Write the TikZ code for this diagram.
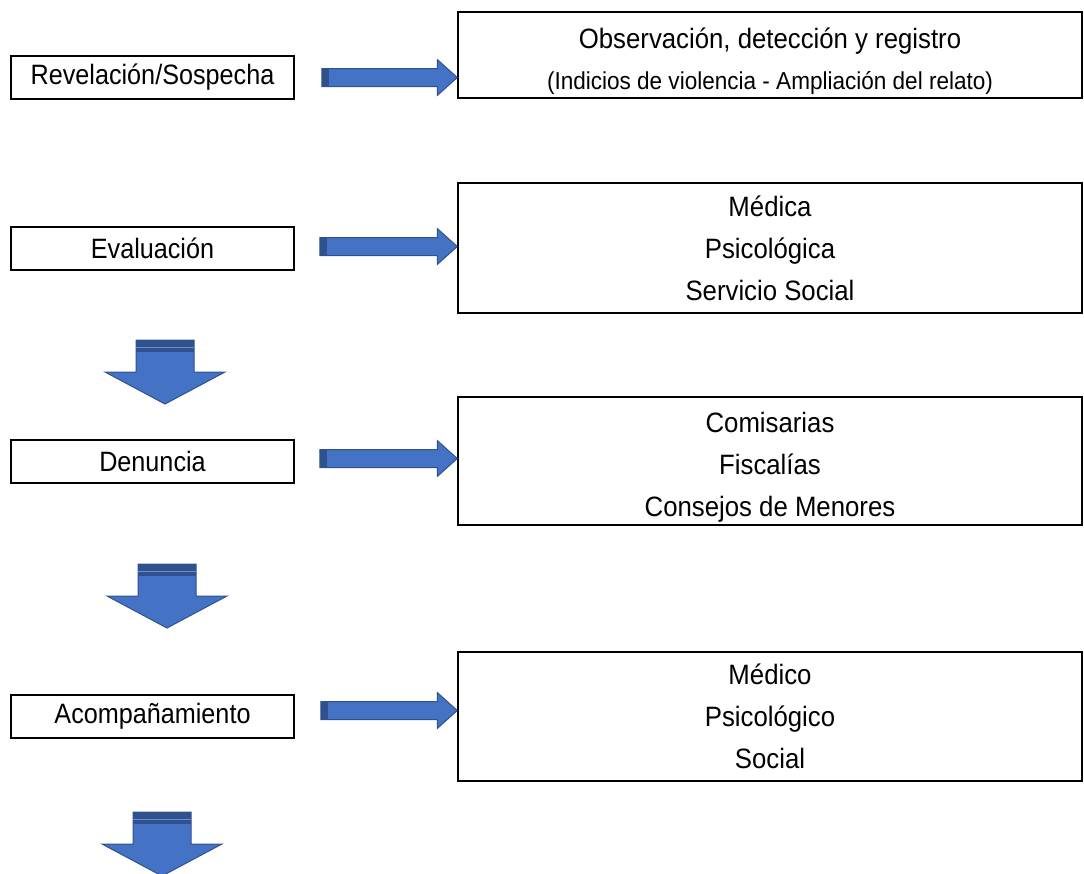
\documentclass[tikz,border=0pt]{standalone}
\usepackage{fontspec}
\setmainfont{Liberation Sans}
\newfontfamily\anchaf[FakeStretch=0.9]{Liberation Sans}
\newfontfamily\estrechaf[FakeStretch=0.92]{Liberation Sans}
\usetikzlibrary{calc}

\definecolor{flechaazul}{HTML}{4472C4}
\definecolor{flechaborde}{HTML}{2F528F}

\tikzset{
  paso/.style={draw, line width=1.5pt, minimum width=283pt, minimum height=43pt,
    inner sep=0pt, font=\anchaf\fontsize{28}{30}\selectfont},
  detalle/.style={draw, line width=1.5pt, minimum width=624pt, inner sep=0pt,
    align=center, font=\estrechaf\fontsize{28}{42}\selectfont},
  flecha/.style={fill=flechaazul, draw=flechaborde, line width=1pt},
  banda/.style={fill=flechaborde},
}

% block arrow to the right: #1 tail, #2 tip
\newcommand{\flechader}[2]{%
  \fill[flecha] ($(#1)+(0,-9)$) -- ($(#2)+(-20,-9)$) -- ($(#2)+(-20,-18)$) -- (#2)
    -- ($(#2)+(-20,18)$) -- ($(#2)+(-20,9)$) -- ($(#1)+(0,9)$) -- cycle;
  \fill[banda] ($(#1)+(0,-9)$) rectangle ($(#1)+(7,9)$);
}
% block arrow pointing down: #1 top centre
\newcommand{\flechaabajo}[1]{%
  \fill[flecha] ($(#1)+(-29,0)$) -- ($(#1)+(-29,32)$) -- ($(#1)+(-60,32)$) -- ($(#1)+(0,64)$)
    -- ($(#1)+(60,32)$) -- ($(#1)+(29,32)$) -- ($(#1)+(29,0)$) -- cycle;
  \fill[banda] ($(#1)+(-29,0)$) rectangle ($(#1)+(29,12)$);
  \draw[flechaazul!80, line width=1pt] ($(#1)+(-29,7)$) -- ($(#1)+(29,7)$);
}

\begin{document}
\begin{tikzpicture}[x=1pt, y=-1pt]
    \useasboundingbox (0,0) rectangle (1084,873);

    %steps on the left
    \node[paso] (rev)    at (152.5,77.5)  {Revelación/Sospecha};
    \node[paso] (eval)   at (152.5,248.5) {Evaluación};
    \node[paso] (den)    at (152.5,461.5) {Denuncia};
    \node[paso] (acomp)  at (152.5,716.5) {Acompañamiento};

    %details on the right
    \node[detalle, minimum height=86pt, font=\estrechaf\fontsize{28}{41}\selectfont] (obs) at (770,55)
      {\rule{0pt}{34pt}Observación, detección y registro\\{\fontsize{24.5}{41}\selectfont(Indicios de violencia - Ampliación del relato)}};
    \node[detalle, minimum height=130pt] (med) at (770,248)   {Médica\\Psicológica\\Servicio Social};
    \node[detalle, minimum height=128pt] (com) at (770,461)   {\rule{0pt}{32pt}Comisarias\\Fiscalías\\Consejos de Menores};
    \node[detalle, minimum height=129pt] (acm) at (770,716.5) {Médico\\Psicológico\\Social};

    %arrows between the columns
    \coordinate (t1) at ($(rev.east)+(27,0)$);
    \coordinate (t2) at ($(eval.east)+(25,-2)$);
    \coordinate (t3) at ($(den.east)+(25,-3)$);
    \coordinate (t4) at ($(acomp.east)+(26,-6)$);
    \flechader{t1}{t1 -| obs.west}
    \flechader{t2}{t2 -| med.west}
    \flechader{t3}{t3 -| com.west}
    \flechader{t4}{t4 -| acm.west}

    %arrows down the left side
    \coordinate (b1) at (165,340);
    \coordinate (b2) at (167,564);
    \coordinate (b3) at (162,812);
    \flechaabajo{b1}
    \flechaabajo{b2}
    \flechaabajo{b3}
\end{tikzpicture}
\end{document}
